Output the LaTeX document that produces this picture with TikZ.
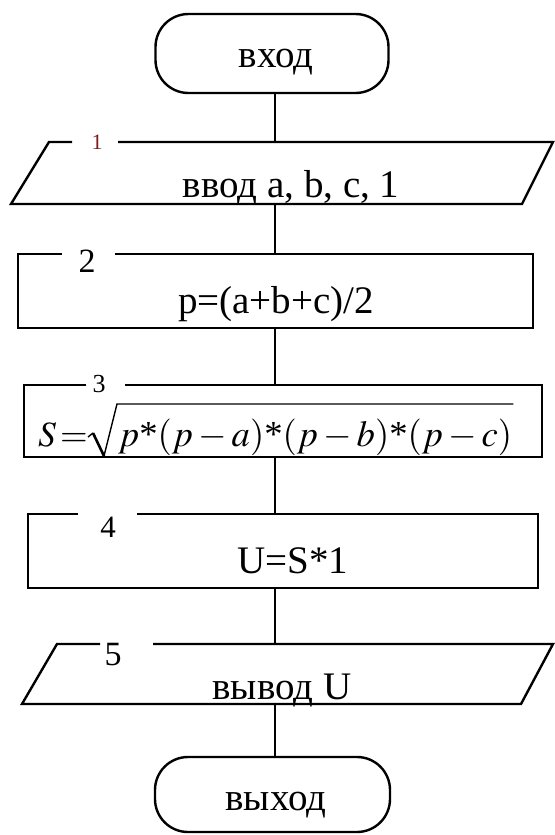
\documentclass[tikz,border=0pt]{standalone}
\usepackage{mathptmx}
\usepackage{fontspec}
\setmainfont{Liberation Serif}
\newfontfamily\tms{Liberation Serif}
\definecolor{lblred}{RGB}{125,30,30}
\begin{document}
\begin{tikzpicture}[x=1pt,y=-1pt,
  outline/.style={draw=black, line width=2.4pt, line join=miter},
  conn/.style={draw=black, line width=2.4pt},
  term/.style={draw=black, line width=2.4pt, rounded corners=33pt, inner sep=0pt},
  blk/.style={inner sep=0pt, minimum width=500pt},
  txt/.style={font=\tms\fontsize{39}{44}\selectfont, inner sep=0pt, anchor=base},
  mth/.style={font=\tms\fontsize{36.7}{40}\selectfont, inner sep=0pt, anchor=base west},
  radical/.style={draw=black, line width=1.4pt, line join=miter},
  lbl/.style={inner sep=0pt, anchor=base}]
\useasboundingbox (0,0) rectangle (554,835);

% terminals
\node[term, minimum width=233pt, minimum height=79pt] (t0) at (272,53.5) {};
\node[term, minimum width=235pt, minimum height=75pt] (t6) at (272.5,794.5) {};

% invisible block nodes (for connectors)
\node[blk, minimum height=62pt] (n1) at (275,173) {};
\node[blk, minimum height=74pt] (n2) at (275,291) {};
\node[blk, minimum height=72pt] (n3) at (275,421) {};
\node[blk, minimum height=74pt] (n4) at (275,551) {};
\node[blk, minimum height=60pt] (n5) at (275,674) {};

% block outlines with gaps for the numbers
\draw[outline] (72,142) -- (49,142) -- (11,204) -- (522,204) -- (553,142) -- (118,142);
\draw[outline] (62,254) -- (18,254) -- (18,328) -- (533,328) -- (533,254) -- (115,254);
\draw[outline] (86,385) -- (24,385) -- (24,457) -- (542,457) -- (542,385) -- (125,385);
\draw[outline] (78,514) -- (28,514) -- (28,588) -- (538,588) -- (538,514) -- (137,514);
\draw[outline] (100,644) -- (57,644) -- (22,704) -- (521,704) -- (553,644) -- (153,644);

% connectors
\draw[conn] (t0.south -| n1.north) -- (n1.north);
\draw[conn] (n1.south) -- (n2.north);
\draw[conn] (n2.south) -- (n3.north);
\draw[conn] (n3.south) -- (n4.north);
\draw[conn] (n4.south) -- (n5.north);
\draw[conn] (n5.south) -- (n5.south |- t6.north);

% texts
\node[txt] (x0) at (276,67) {вход};
\node[txt] (x1) at (291,197) {ввод a, b, c, 1};
\node[txt] (x2) at (276,313) {p=(a+b+c)/2};
\node[mth, font=\tms\fontsize{35.5}{40}\selectfont] (x3a) at (38,446) {$S\mkern2mu{=}$};
\node[mth] (x3b) at (118,446) {$p\mbox{\tms*}(p-a)\mbox{\tms*}(p-b)\mbox{\tms*}(p-c)$};
\draw[radical] (88,437) -- (93,433);
\draw[draw=black, line width=2.6pt] (93,433) -- (104,456);
\draw[radical] (104,456) -- (117,404) -- ([xshift=1pt]x3b.east |- 0,404);
\node[txt] (x4) at (293,573) {U=S*1};
\node[txt] (x5) at (282,699) {вывод U};
\node[txt] (x6) at (276,810) {выход};

% numbers
\node[lbl, font=\tms\fontsize{22}{24}\selectfont, text=lblred] (l1) at (97,149) {1};
\node[lbl, font=\tms\fontsize{34}{36}\selectfont] (l2) at (87,272) {2};
\node[lbl, font=\tms\fontsize{26}{28}\selectfont] (l3) at (99,392) {3};
\node[lbl, font=\tms\fontsize{31}{34}\selectfont] (l4) at (108,537) {4};
\node[lbl, font=\tms\fontsize{34}{36}\selectfont] (l5) at (113,665) {5};
\end{tikzpicture}
\end{document}
